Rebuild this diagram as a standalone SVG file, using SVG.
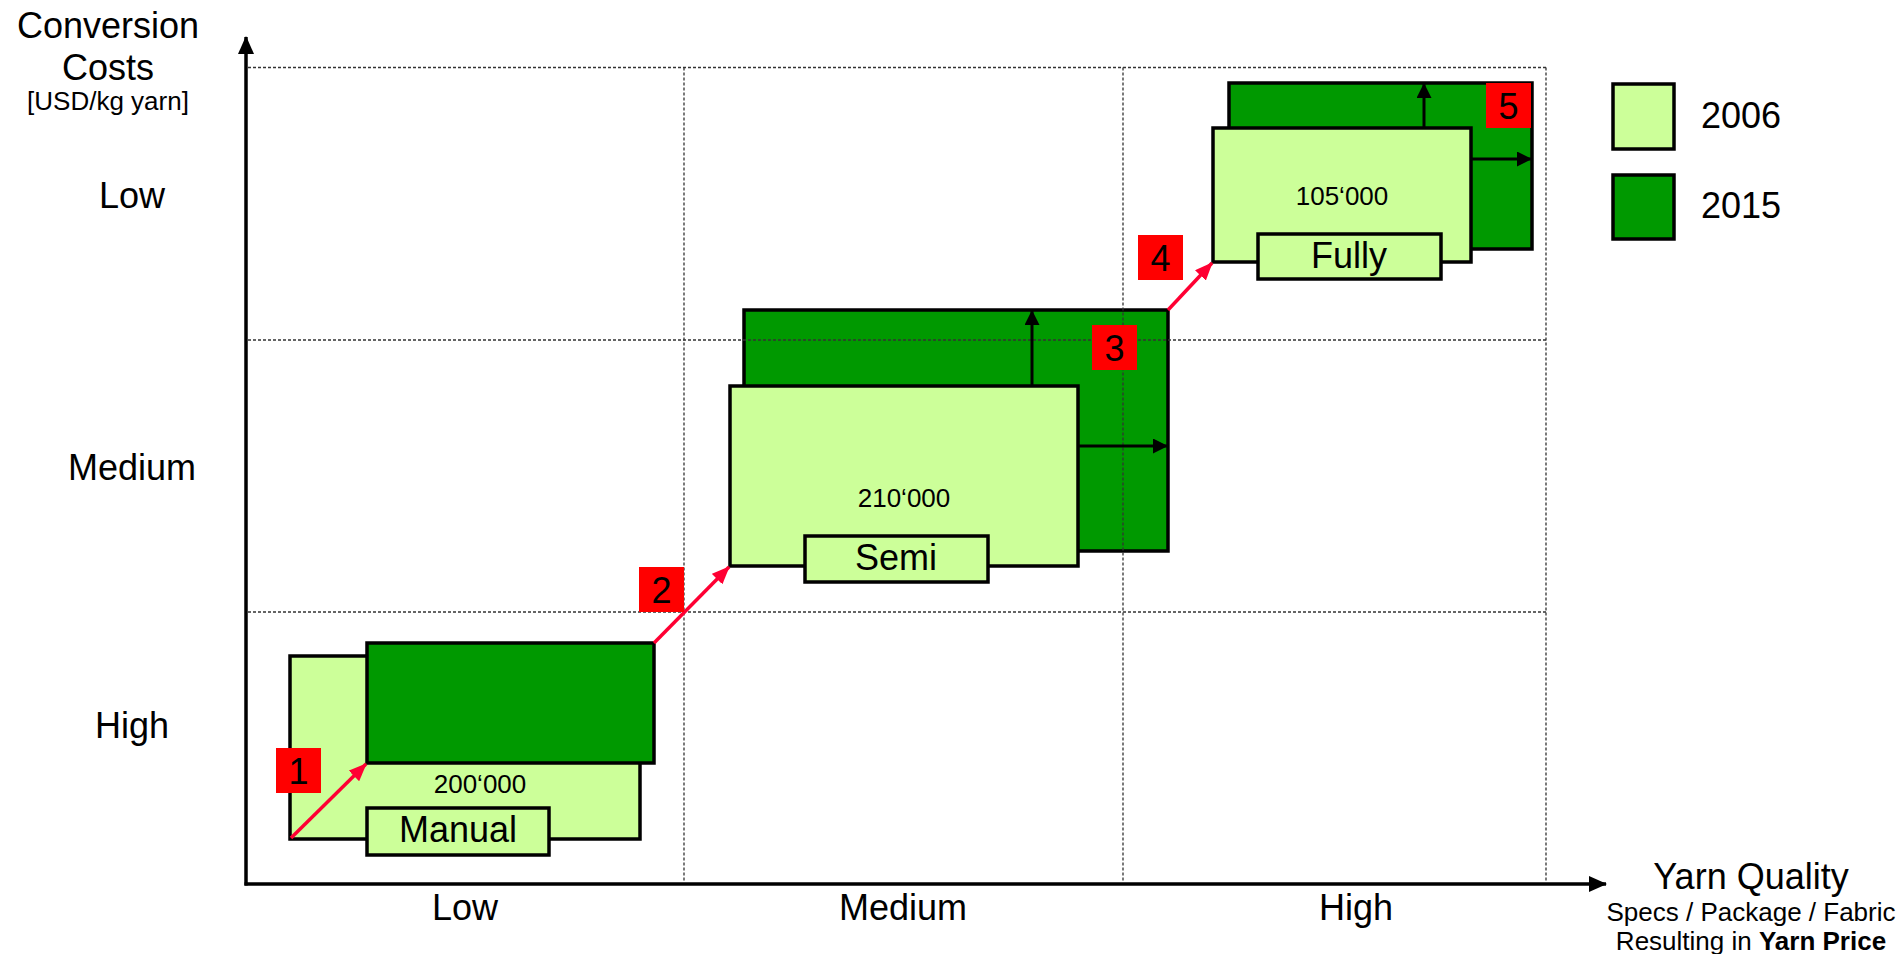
<svg xmlns="http://www.w3.org/2000/svg" width="1904" height="954" viewBox="0 0 1904 954">
  <style>
    text { font-family: "Liberation Sans", Arial, sans-serif; fill: #000; }
    .big { font-size: 36px; }
    .small { font-size: 26px; }
    .mid { text-anchor: middle; }
    .light { fill: #CCFF99; stroke: #000; stroke-width: 3.5; }
    .dark { fill: #009900; stroke: #000; stroke-width: 3.5; }
    .grid { stroke: #333; stroke-width: 1.3; stroke-dasharray: 3 2; fill: none; }
    .axis { stroke: #000; stroke-width: 3.5; fill: none; }
    .grow { stroke: #000; stroke-width: 3; fill: none; marker-end: url(#headBlack); }
    .step { stroke: #FF0033; stroke-width: 3.5; fill: none; marker-end: url(#headRed); }
    .badge { fill: #FF0000; }
  </style>
  <defs>
    <marker id="headAxis" markerUnits="userSpaceOnUse" markerWidth="18" markerHeight="16" refX="17" refY="8" orient="auto">
      <path d="M0,0 L18,8 L0,16 z" fill="#000"/>
    </marker>
    <marker id="headBlack" markerUnits="userSpaceOnUse" markerWidth="15" markerHeight="15" refX="14" refY="7.5" orient="auto">
      <path d="M0,0 L15,7.5 L0,15 z" fill="#000"/>
    </marker>
    <marker id="headRed" markerUnits="userSpaceOnUse" markerWidth="18" markerHeight="15" refX="17" refY="7.5" orient="auto">
      <path d="M0,0 L18,7.5 L0,15 z" fill="#FF0033"/>
    </marker>
  </defs>

  <rect width="1904" height="954" fill="#fff"/>

  <!-- axis titles -->
  <g id="y-title">
    <text class="big mid" x="108" y="38">Conversion</text>
    <text class="big mid" x="108" y="80">Costs</text>
    <text class="small mid" x="108" y="110">[USD/kg yarn]</text>
  </g>
  <g id="y-labels">
    <text class="big mid" x="132" y="208">Low</text>
    <text class="big mid" x="132" y="480">Medium</text>
    <text class="big mid" x="132" y="738">High</text>
  </g>
  <g id="x-labels">
    <text class="big mid" x="465" y="920">Low</text>
    <text class="big mid" x="903" y="920">Medium</text>
    <text class="big mid" x="1356" y="920">High</text>
  </g>
  <g id="x-title">
    <text class="big mid" x="1751" y="889">Yarn Quality</text>
    <text class="small mid" x="1751" y="921">Specs / Package / Fabric</text>
    <text class="small mid" x="1751" y="950">Resulting in <tspan font-weight="bold">Yarn Price</tspan></text>
  </g>

  <!-- axes -->
  <g id="axes">
    <line class="axis" x1="246" y1="885.5" x2="246" y2="37" marker-end="url(#headAxis)"/>
    <line class="axis" x1="244.5" y1="884" x2="1606" y2="884" marker-end="url(#headAxis)"/>
  </g>

  <!-- 2015 footprints behind the 2006 ones (semi, fully) -->
  <g id="semi-2015">
    <rect class="dark" x="744" y="310" width="424" height="241"/>
  </g>
  <g id="fully-2015">
    <rect class="dark" x="1229" y="83" width="303" height="166"/>
  </g>

  <!-- dotted grid -->
  <g id="grid">
    <line class="grid" x1="248" y1="67.5" x2="1546" y2="67.5"/>
    <line class="grid" x1="248" y1="340" x2="1546" y2="340"/>
    <line class="grid" x1="248" y1="612" x2="1546" y2="612"/>
    <line class="grid" x1="684" y1="67.5" x2="684" y2="882"/>
    <line class="grid" x1="1123" y1="67.5" x2="1123" y2="882"/>
    <line class="grid" x1="1546" y1="67.5" x2="1546" y2="882"/>
  </g>

  <!-- manual spinning -->
  <g id="manual">
    <rect class="light" x="290" y="656" width="350" height="183"/>
    <rect class="dark" x="367" y="643" width="287" height="120"/>
    <text class="small mid" x="480" y="793">200‘000</text>
    <rect class="light" x="367" y="808" width="182" height="47"/>
    <text class="big mid" x="458" y="842">Manual</text>
  </g>

  <!-- semi automated -->
  <g id="semi">
    <rect class="light" x="730" y="386" width="348" height="180"/>
    <text class="small mid" x="904" y="507">210‘000</text>
    <rect class="light" x="805" y="536" width="183" height="46"/>
    <text class="big mid" x="896" y="570">Semi</text>
  </g>

  <!-- fully automated -->
  <g id="fully">
    <rect class="light" x="1213" y="128" width="258" height="134"/>
    <text class="small mid" x="1342" y="205">105‘000</text>
    <rect class="light" x="1258" y="234" width="183" height="45"/>
    <text class="big mid" x="1349" y="268">Fully</text>
  </g>

  <!-- connectors -->
  <g id="connectors">
    <line class="grow" x1="1032" y1="386" x2="1032" y2="311"/>
    <line class="grow" x1="1078" y1="446" x2="1167" y2="446"/>
    <line class="grow" x1="1424" y1="128" x2="1424" y2="84"/>
    <line class="grow" x1="1471" y1="159" x2="1531" y2="159"/>
    <line class="step" x1="291" y1="838" x2="366" y2="764"/>
    <line class="step" x1="654" y1="643" x2="729" y2="567"/>
    <line class="step" x1="1168" y1="310" x2="1212" y2="263"/>
  </g>

  <!-- numbered steps -->
  <g id="step-1"><rect class="badge" x="276" y="748" width="45" height="45"/><text class="big mid" x="298.5" y="783.5">1</text></g>
  <g id="step-2"><rect class="badge" x="639" y="567" width="45" height="45"/><text class="big mid" x="661.5" y="602.5">2</text></g>
  <g id="step-3"><rect class="badge" x="1092" y="325" width="45" height="45"/><text class="big mid" x="1114.5" y="360.5">3</text></g>
  <g id="step-4"><rect class="badge" x="1138" y="235" width="45" height="45"/><text class="big mid" x="1160.5" y="270.5">4</text></g>
  <g id="step-5"><rect class="badge" x="1486" y="83" width="45" height="45"/><text class="big mid" x="1508.5" y="118.5">5</text></g>

  <!-- legend -->
  <g id="legend-2006">
    <rect class="light" x="1613" y="84" width="61" height="65"/>
    <text class="big" x="1701" y="128">2006</text>
  </g>
  <g id="legend-2015">
    <rect class="dark" x="1613" y="175" width="61" height="64"/>
    <text class="big" x="1701" y="218">2015</text>
  </g>
</svg>
